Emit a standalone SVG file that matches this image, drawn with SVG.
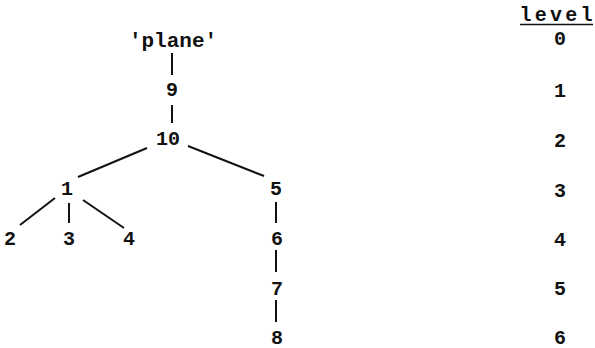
<svg xmlns="http://www.w3.org/2000/svg" width="595" height="348" viewBox="0 0 595 348">
<style>
text{font-family:"Liberation Mono","Courier New",monospace;font-size:20px;font-weight:bold;fill:#111;text-anchor:middle}
.p{font-size:21px}
.e{stroke:#111;stroke-width:2;fill:none;stroke-linecap:butt}
</style>
<rect width="595" height="348" fill="#fff"/>
<g id="connectors">
<line class="e" x1="172" y1="53" x2="172" y2="75"/>
<line class="e" x1="172" y1="105" x2="172" y2="123"/>
<line class="e" x1="147" y1="148" x2="78" y2="177"/>
<line class="e" x1="188" y1="146" x2="264" y2="176"/>
<line class="e" x1="55" y1="198" x2="20" y2="225"/>
<line class="e" x1="69" y1="203" x2="69" y2="223"/>
<line class="e" x1="83" y1="200" x2="124" y2="228"/>
<line class="e" x1="276" y1="202" x2="276" y2="223"/>
<line class="e" x1="276" y1="250" x2="276" y2="272"/>
<line class="e" x1="276" y1="300" x2="276" y2="322"/>
</g>
<g id="plane"><text class="p" x="173" y="47">'plane'</text></g>
<g id="n9"><text x="172" y="96">9</text></g>
<g id="n10"><text x="168" y="145">10</text></g>
<g id="n1"><text x="67" y="195">1</text></g>
<g id="n5"><text x="276" y="195">5</text></g>
<g id="n2"><text x="10" y="245">2</text></g>
<g id="n3"><text x="69" y="245">3</text></g>
<g id="n4"><text x="129" y="245">4</text></g>
<g id="n6"><text x="277" y="245">6</text></g>
<g id="n7"><text x="277" y="295">7</text></g>
<g id="n8"><text x="277" y="344">8</text></g>
<g id="levels">
<text x="556" y="21" textLength="73" lengthAdjust="spacing">level</text>
<line class="e" x1="520" y1="24.5" x2="593" y2="24.5" style="stroke-width:1.5"/>
<text x="560" y="45">0</text>
<text x="560" y="97">1</text>
<text x="560" y="147">2</text>
<text x="560" y="197">3</text>
<text x="560" y="246">4</text>
<text x="560" y="295">5</text>
<text x="560" y="344">6</text>
</g>
</svg>
